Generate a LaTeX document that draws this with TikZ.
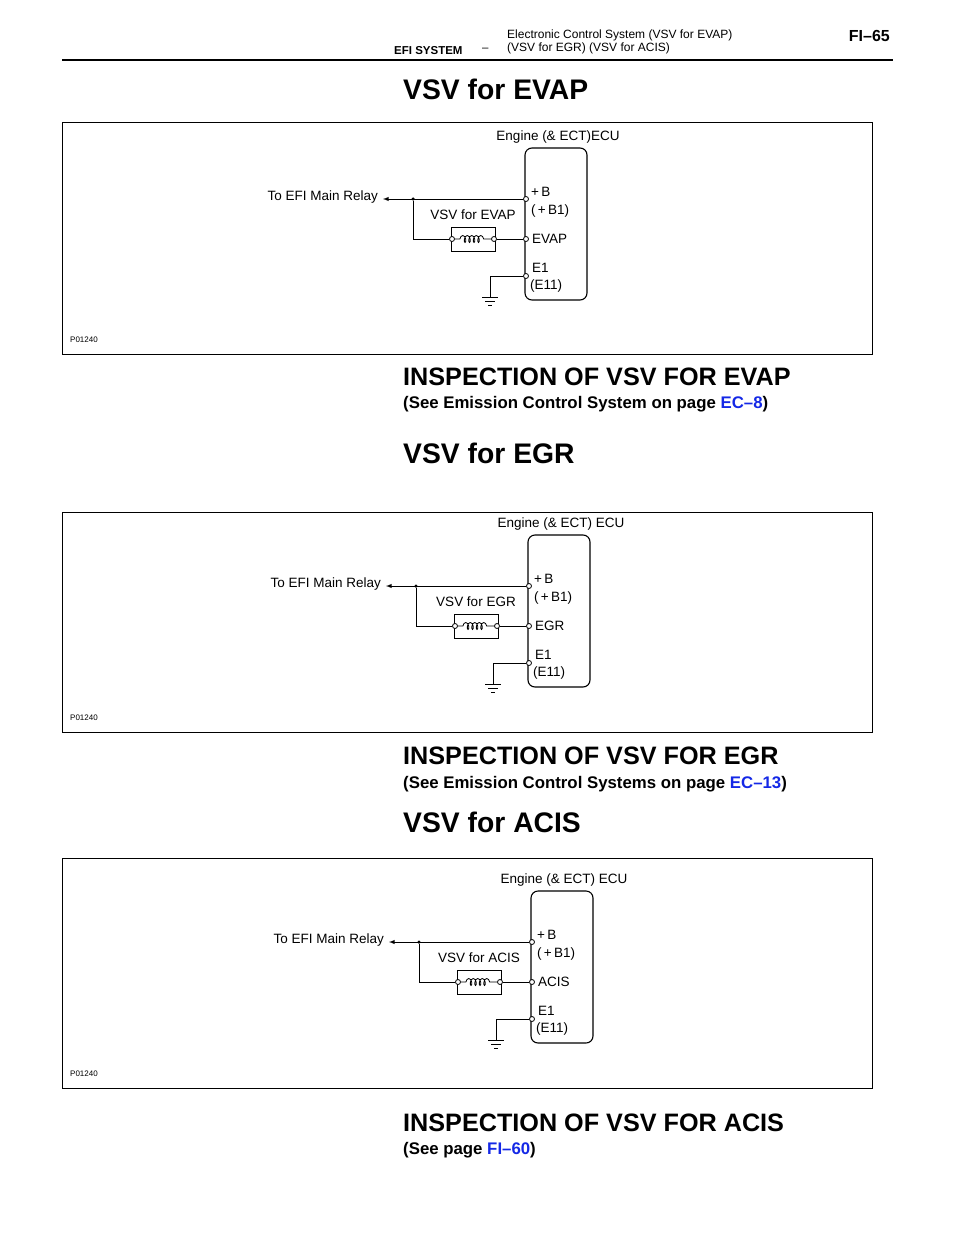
\documentclass[tikz,border=0pt]{standalone}
\usepackage{fontspec}
\setmainfont{Liberation Sans}
\usetikzlibrary{decorations.pathmorphing}
\tikzset{x=1pt, y=-1pt,
  every node/.style={inner sep=0pt},
  frame/.style={draw, line width=1pt},
  wire/.style={line width=0.9pt},
  term/.style={circle, draw, fill=white, minimum size=5pt, line width=0.8pt},
  dot/.style={circle, fill, minimum size=3.5pt},
  lbl/.style={font=\fontsize{13.5}{15}\selectfont, anchor=west},
  heading/.style={font=\fontsize{28.3}{31}\selectfont\bfseries, anchor=west},
  insp/.style={font=\fontsize{25.2}{28}\selectfont\bfseries, anchor=west},
  see/.style={font=\fontsize{16.8}{19}\selectfont\bfseries, anchor=west}}
\definecolor{linkblue}{RGB}{20,40,230}
% #1 frame top, #2 frame height, #3 x shift, #4 y shift, #5 signal, #6 ECU label
\newcommand{\vsvpart}[6]{%
  \node[frame, minimum width=810pt, minimum height=#2pt, anchor=north west] (frame) at (62,#1) {};
  \node[font=\fontsize{8}{9}\selectfont, anchor=west] (code) at (70,#1+#2-14) {P01240};
  \begin{scope}[shift={(#3,#4)}]
    \node[lbl, anchor=center] (ecu) at (558,137) {#6};
    \draw[line width=1.1pt, rounded corners=7pt] (525,148) rectangle (587,300);
    \node[term] (tb) at (526,199) {};
    \node[term] (tsig) at (526,239) {};
    \node[term] (te) at (526,276) {};
    \node[lbl] (lb) at (531,192) {+\,B};
    \node[lbl] (lb1) at (531,211) {(\,+\,B1)};
    \node[lbl] (lsig) at (532,239) {#5};
    \node[lbl] (le) at (532,268) {E1};
    \node[lbl] (le1) at (530,286) {(E11)};
    \node[lbl, anchor=east] (relay) at (378,197) {To EFI Main Relay};
    \coordinate (arr) at (383,199);
    \node[dot] (junc) at (413,199) {};
    \coordinate (corner) at (413,239);
    \node[draw, line width=1pt, minimum width=44pt, minimum height=24pt] (coil) at (473,239) {};
    \node[term] (c1) at (452,239) {};
    \node[term] (c2) at (494,239) {};
    \node[lbl, anchor=center] (vsv) at (473,215) {VSV for #5};
    \coordinate (gnd) at (490,276);
    \coordinate (gndb) at (490,297);
    \draw[wire, -latex] (tb) -- (arr);
    \draw[wire] (junc) -- (corner) -- (c1);
    \draw[wire] (c2) -- (tsig);
    \draw[line width=0.8pt, decorate, decoration={coil, segment length=4.5pt, amplitude=3.5pt, pre length=5pt, post length=5pt}]
      (c1.east) -- (c2.west);
    \draw[wire] (te) -- (gnd) -- (gndb);
    \draw[wire] (482,297) -- (498,297) (485,301) -- (495,301) (488,305) -- (492,305);
  \end{scope}}
\begin{document}
\begin{tikzpicture}
\useasboundingbox (0,0) rectangle (960,1242);
% page header
\node[font=\fontsize{11.5}{13}\selectfont\bfseries, anchor=west] (sys) at (394,51) {EFI SYSTEM};
\node[font=\fontsize{11.5}{13}\selectfont, anchor=west] (dash) at (482,50) {--};
\node[font=\fontsize{12}{13}\selectfont, anchor=west, align=left] (title) at (507,42) {Electronic Control System (VSV for EVAP)\\(VSV for EGR) (VSV for ACIS)};
\node[font=\fontsize{16}{18}\selectfont\bfseries, anchor=east] (page) at (890,36) {FI--65};
\draw[line width=1.3pt] (62,60) -- (893,60);
% EVAP
\node[heading] (h1) at (403,89) {VSV for EVAP};
\vsvpart{122}{232}{0}{0}{EVAP}{Engine (\& ECT)ECU}
\node[insp] (i1) at (403,377) {INSPECTION OF VSV FOR EVAP};
\node[see] (s1) at (403,404) {(See Emission Control System on page \textcolor{linkblue}{EC--8})};
% EGR
\node[heading] (h2) at (403,453) {VSV for EGR};
\vsvpart{512}{220}{3}{387}{EGR}{Engine (\& ECT) ECU}
\node[insp] (i2) at (403,756) {INSPECTION OF VSV FOR EGR};
\node[see] (s2) at (403,784) {(See Emission Control Systems on page \textcolor{linkblue}{EC--13})};
% ACIS
\node[heading] (h3) at (403,822) {VSV for ACIS};
\vsvpart{858}{230}{6}{743}{ACIS}{Engine (\& ECT) ECU}
\node[insp] (i3) at (403,1123) {INSPECTION OF VSV FOR ACIS};
\node[see] (s3) at (403,1150) {(See page \textcolor{linkblue}{FI--60})};
\end{tikzpicture}
\end{document}
